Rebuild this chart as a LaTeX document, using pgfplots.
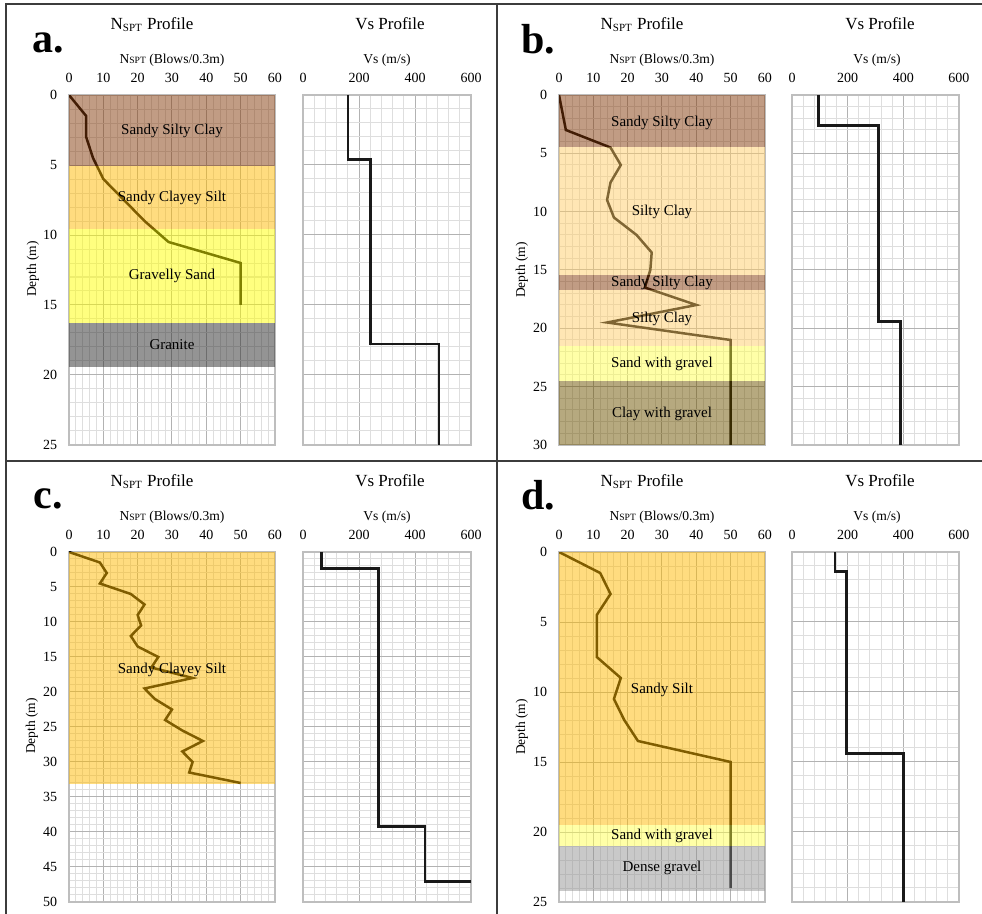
\documentclass[border=0pt]{standalone}
\usepackage{fontspec}
\setmainfont{Liberation Serif}
\usepackage{pgfplots}
\pgfplotsset{compat=1.18}
\definecolor{gridmaj}{RGB}{178,178,178}
\definecolor{gridmin}{RGB}{222,222,222}
\definecolor{framec}{RGB}{190,190,190}
\definecolor{panelc}{RGB}{60,60,60}
\definecolor{cBrown}{RGB}{132,58,10}
\definecolor{cOrange}{RGB}{255,186,0}
\definecolor{cYellow}{RGB}{255,255,0}
\definecolor{cGranite}{RGB}{42,42,42}
\definecolor{cPeach}{RGB}{255,205,105}
\definecolor{cSandG}{RGB}{255,255,80}
\definecolor{cClayG}{RGB}{110,84,0}
\definecolor{cDense}{RGB}{148,148,148}
\pgfplotsset{
  base/.style={scale only axis, anchor=north west, y dir=reverse, ymin=0,
    xticklabel pos=upper, grid=both,
    major tick length=0pt, minor tick length=0pt,
    major grid style={draw=gridmaj, line width=0.5pt},
    minor grid style={draw=gridmin, line width=0.5pt},
    axis line style={draw=framec, line width=0.8pt},
    ticklabel style={font=\fontsize{7}{8}\selectfont},
    xticklabel style={inner sep=0pt, anchor=south, yshift=5.8pt},
    yticklabel style={inner sep=0pt, anchor=east, xshift=-5.7pt},
    /pgf/number format/assume math mode=true,
    minor y tick num=4, height=175pt},
  nspt/.style={base, xmin=0, xmax=60, xtick={0,10,...,60}, minor x tick num=4, width=103pt},
  vs/.style={base, xmin=0, xmax=600, xtick={0,200,400,600}, minor x tick num=4, width=84pt, yticklabel={\mbox{}}},
}
\tikzset{
  layer/.style={draw=none, fill=#1, fill opacity=0.5},
  nline/.style={black, line width=1.25pt},
  vline/.style={black!90, line width=1.3pt},
  lab/.style={font=\fontsize{7.5}{9}\selectfont, inner sep=0pt}
}
\newcommand{\nsptT}{N\textsubscript{\fontsize{5.5}{6}\selectfont SPT}}
\newcommand{\nsptL}{N{\fontsize{4.8}{5}\selectfont SPT}}
\begin{document}
\begin{tikzpicture}
\useasboundingbox (0,0) rectangle (491pt,-457pt);
% ---------------- a ----------------
\begin{axis}[nspt, at={(34.5pt,-47.5pt)}, ymax=25, ytick={0,5,...,25}]
\addplot[nline] coordinates {(0,0) (5,1.5) (5,3) (7,4.5) (10,6) (16,7.5) (22,9) (29,10.5) (50,12) (50,15)};
\addplot[layer=cBrown] coordinates {(0,0) (60,0) (60,5.1) (0,5.1)} --cycle;
\addplot[layer=cOrange] coordinates {(0,5.1) (60,5.1) (60,9.6) (0,9.6)} --cycle;
\addplot[layer=cYellow] coordinates {(0,9.6) (60,9.6) (60,16.3) (0,16.3)} --cycle;
\addplot[layer=cGranite] coordinates {(0,16.3) (60,16.3) (60,19.4) (0,19.4)} --cycle;
\node[lab] at (axis cs:30,2.6) {Sandy Silty Clay};
\node[lab] at (axis cs:30,7.35) {Sandy Clayey Silt};
\node[lab] at (axis cs:30,12.95) {Gravelly Sand};
\node[lab] at (axis cs:30,17.85) {Granite};
\end{axis}
\begin{axis}[vs, at={(151.5pt,-47.5pt)}, ymax=25, ytick={0,5,...,25}]
\addplot[vline] coordinates {(160,0) (160,4.6) (240,4.6) (240,17.8) (485,17.8) (485,25)};
\end{axis}
% ---------------- b ----------------
\begin{axis}[nspt, at={(279.5pt,-47.5pt)}, ymax=30, ytick={0,5,...,30}]
\addplot[nline] coordinates {(0,0) (2,3) (15,4.5) (18,6) (15,7.5) (14,9) (16,10.5) (22.6,12) (27,13.5) (26.6,15) (25,16.5) (40,18) (14,19.5) (50,21) (50,30)};
\addplot[layer=cBrown] coordinates {(0,0) (60,0) (60,4.5) (0,4.5)} --cycle;
\addplot[layer=cPeach] coordinates {(0,4.5) (60,4.5) (60,15.4) (0,15.4)} --cycle;
\addplot[layer=cBrown] coordinates {(0,15.4) (60,15.4) (60,16.7) (0,16.7)} --cycle;
\addplot[layer=cPeach] coordinates {(0,16.7) (60,16.7) (60,21.5) (0,21.5)} --cycle;
\addplot[layer=cSandG] coordinates {(0,21.5) (60,21.5) (60,24.5) (0,24.5)} --cycle;
\addplot[layer=cClayG] coordinates {(0,24.5) (60,24.5) (60,30) (0,30)} --cycle;
\node[lab] at (axis cs:30,2.4) {Sandy Silty Clay};
\node[lab] at (axis cs:30,10.0) {Silty Clay};
\node[lab] at (axis cs:30,16.15) {Sandy Silty Clay};
\node[lab] at (axis cs:30,19.2) {Silty Clay};
\node[lab] at (axis cs:30,23.05) {Sand with gravel};
\node[lab] at (axis cs:30,27.3) {Clay with gravel};
\end{axis}
\begin{axis}[vs, at={(396pt,-47.5pt)}, width=83.5pt, ymax=30, ytick={0,5,...,30}]
\addplot[vline] coordinates {(95,0) (95,2.6) (310,2.6) (310,19.4) (390,19.4) (390,30)};
\end{axis}
% ---------------- c ----------------
\begin{axis}[nspt, at={(34.5pt,-276pt)}, ymax=50, ytick={0,5,...,50}]
\addplot[nline] coordinates {(0,0) (9,1.5) (11,3) (9,4.5) (18,6) (22,7.5) (20,9) (21,10.5) (18,12) (20,13.5) (26,15) (24,16.5) (36,18) (22,19.5) (25,21) (30,22.5) (28,24) (33,25.5) (39,27) (33,28.5) (36,30) (35,31.5) (50,33)};
\addplot[layer=cOrange] coordinates {(0,0) (60,0) (60,33.1) (0,33.1)} --cycle;
\node[lab] at (axis cs:30,16.8) {Sandy Clayey Silt};
\end{axis}
\begin{axis}[vs, at={(151.5pt,-276pt)}, ymax=50, ytick={0,5,...,50}]
\addplot[vline] coordinates {(65,0) (65,2.4) (270,2.4) (270,39.2) (435,39.2) (435,47.1) (600,47.1)};
\end{axis}
% ---------------- d ----------------
\begin{axis}[nspt, at={(279.5pt,-276pt)}, ymax=25, ytick={0,5,...,25}]
\addplot[nline] coordinates {(0,0) (12,1.5) (15,3) (11,4.5) (11,7.5) (18,9) (16,10.5) (19,12) (23,13.5) (50,15) (50,24)};
\addplot[layer=cOrange] coordinates {(0,0) (60,0) (60,19.5) (0,19.5)} --cycle;
\addplot[layer=cSandG] coordinates {(0,19.5) (60,19.5) (60,21) (0,21)} --cycle;
\addplot[layer=cDense] coordinates {(0,21) (60,21) (60,24.2) (0,24.2)} --cycle;
\node[lab] at (axis cs:30,9.85) {Sandy Silt};
\node[lab] at (axis cs:30,20.3) {Sand with gravel};
\node[lab] at (axis cs:30,22.6) {Dense gravel};
\end{axis}
\begin{axis}[vs, at={(396pt,-276pt)}, width=83.5pt, ymax=25, ytick={0,5,...,25}]
\addplot[vline] coordinates {(155,0) (155,1.4) (195,1.4) (195,14.4) (400,14.4) (400,25)};
\end{axis}
% ---------------- texts and frame ----------------
\begin{scope}[x=0.5pt,y=-0.5pt]
\draw[panelc, line width=0.75pt] (6,914) -- (6,4) -- (982,4);
\draw[panelc, line width=0.75pt] (497,4) -- (497,914);
\draw[panelc, line width=0.75pt] (6,461) -- (982,461);
\tikzset{pl/.style={anchor=base west, inner sep=0pt, font=\fontsize{21}{24}\selectfont\bfseries},
  tt/.style={anchor=base, inner sep=0pt, font=\fontsize{8.5}{10}\selectfont},
  al/.style={anchor=base, inner sep=0pt, font=\fontsize{6.8}{8}\selectfont},
  dl/.style={rotate=90, inner sep=0pt, font=\fontsize{6.75}{8}\selectfont}}
\node[pl] at (32,53) {a.};
\node[pl] at (521,54) {b.};
\node[pl] at (33,509) {c.};
\node[pl] at (521,510) {d.};
\foreach \dx in {0,490}{
  \node[tt] at (152+\dx,30) {\nsptT\ Profile};
  \node[tt] at (390+\dx,30) {Vs Profile};
  \node[al] at (172+\dx,64) {\nsptL\ (Blows/0.3m)};
  \node[al] at (387+\dx,64) {Vs (m/s)};
  \node[tt] at (152+\dx,487) {\nsptT\ Profile};
  \node[tt] at (390+\dx,487) {Vs Profile};
  \node[al] at (172+\dx,521) {\nsptL\ (Blows/0.3m)};
  \node[al] at (387+\dx,521) {Vs (m/s)};
}
\node[dl] at (33,269) {Depth (m)};
\node[dl] at (522,270) {Depth (m)};
\node[dl] at (32,726) {Depth (m)};
\node[dl] at (522,727) {Depth (m)};
\end{scope}
\end{tikzpicture}
\end{document}
